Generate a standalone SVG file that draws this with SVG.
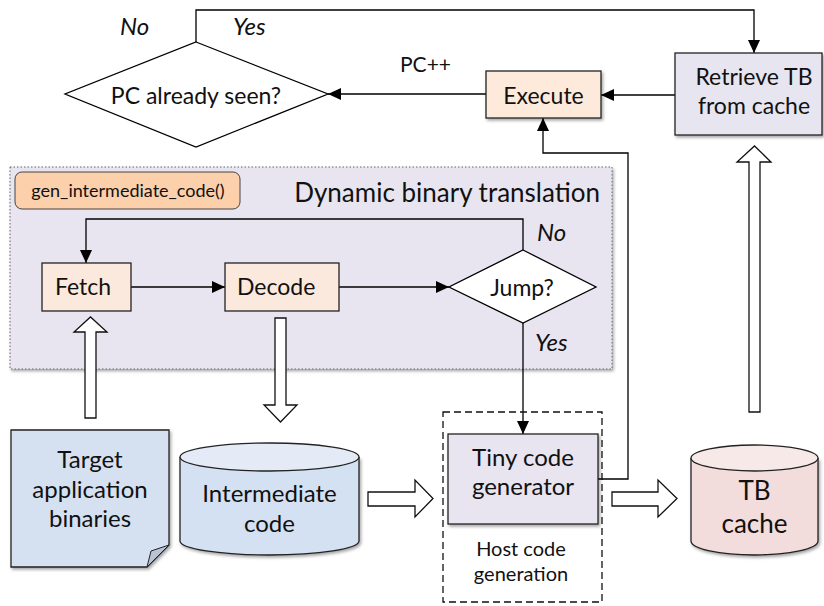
<svg xmlns="http://www.w3.org/2000/svg" width="824" height="606" viewBox="0 0 824 606">
  <defs>
    <marker id="arrow" markerUnits="userSpaceOnUse" markerWidth="14" markerHeight="14" viewBox="0 0 14 14" refX="13" refY="7" orient="auto">
      <path d="M0,1 L13,7 L0,13 Z" fill="#000"/>
    </marker>
    <filter id="shadow" x="-10%" y="-10%" width="125%" height="130%">
      <feDropShadow dx="1.5" dy="2" stdDeviation="1.5" flood-color="#000" flood-opacity="0.35"/>
    </filter>
  </defs>
  <style>
    text { font-family: Lato, "Open Sans", "Liberation Sans", sans-serif; fill: #111; }
    .box { stroke: #222; stroke-width: 1.3; }
    .conn { fill: none; stroke: #000; stroke-width: 1.3; marker-end: url(#arrow); }
    .hollow { fill: #fff; stroke: #111; stroke-width: 1.3; }
    .mid { text-anchor: middle; }
    .it { font-style: italic; }
  </style>

  <!-- Dynamic binary translation region -->
  <g id="dbt-region">
    <rect x="10" y="167" width="602" height="202" fill="#e8e5f0" stroke="#666" stroke-width="1" stroke-dasharray="1.5,2" filter="url(#shadow)"/>
    <text x="600" y="202" font-size="26" text-anchor="end">Dynamic binary translation</text>
  </g>
  <g id="gen-intermediate-code">
    <rect x="15" y="172" width="225" height="37" rx="7" fill="#fbd0ab" stroke="#444" stroke-width="1"/>
    <text class="mid" x="128" y="197" font-size="18">gen_intermediate_code()</text>
  </g>

  <!-- Hollow data-flow arrows -->
  <g id="flow-arrows">
    <polygon class="hollow" points="85,418 96,418 96,332 107,332 90.5,317 74,332 85,332"/>
    <polygon class="hollow" points="275,318 286,318 286,405 297,405 280.5,422 264,405 275,405"/>
    <polygon class="hollow" points="368,492 415,492 415,480 433,498.5 415,517 415,506 368,506"/>
    <polygon class="hollow" points="612,492 658,492 658,480 677,498.5 658,517 658,506 612,506"/>
    <polygon class="hollow" points="749,412 760,412 760,162 771,162 754.5,146 737,162 749,162"/>
  </g>

  <!-- Connectors -->
  <g id="connectors">
    <path class="conn" d="M196,42 V10 H754 V53"/>
    <path class="conn" d="M675,95 H601"/>
    <path class="conn" d="M486,94 H328"/>
    <path class="conn" d="M598,479 H628 V153 H543 V118"/>
    <path class="conn" d="M523,250 V219 H86 V263"/>
    <path class="conn" d="M131,287 H225"/>
    <path class="conn" d="M339,287 H449"/>
    <path class="conn" d="M523,323 V434"/>
    <text class="it" x="120" y="35" font-size="24">No</text>
    <text class="it" x="233" y="35" font-size="24">Yes</text>
    <text x="400" y="72" font-size="21">PC++</text>
    <text class="it" x="537" y="241" font-size="24">No</text>
    <text class="it" x="535" y="351" font-size="24">Yes</text>
  </g>

  <g id="pc-seen">
    <polygon points="196,42 328,94 196,147 65,94" fill="#fff" stroke="#000" stroke-width="1.3"/>
    <text class="mid" x="196" y="104" font-size="23">PC already seen?</text>
  </g>

  <g id="execute">
    <rect class="box" x="486" y="71" width="115" height="47" fill="#fdeadb" filter="url(#shadow)"/>
    <text class="mid" x="543.5" y="104" font-size="23">Execute</text>
  </g>

  <g id="retrieve-tb">
    <rect class="box" x="675" y="53" width="147" height="82" fill="#e7e5f0" filter="url(#shadow)"/>
    <text class="mid" x="754" y="85" font-size="23">Retrieve TB</text>
    <text class="mid" x="754" y="114" font-size="23">from cache</text>
  </g>

  <g id="fetch">
    <rect class="box" x="42" y="263" width="89" height="48" fill="#fbe9dd"/>
    <text x="55" y="295" font-size="23">Fetch</text>
  </g>

  <g id="decode">
    <rect class="box" x="225" y="263" width="114" height="48" fill="#fbe9dd"/>
    <text x="237" y="295" font-size="23">Decode</text>
  </g>

  <g id="jump">
    <polygon points="523,250 596,287 523,323 449,287" fill="#fff" stroke="#000" stroke-width="1.3"/>
    <text class="mid" x="522" y="296" font-size="23">Jump?</text>
  </g>

  <g id="target-binaries">
    <path class="box" d="M11,430 H169 V545 L147,567 H11 Z" fill="#d5e1f1" filter="url(#shadow)"/>
    <path d="M169,545 L151,551 L147,567 Z" fill="#b8c3d6" stroke="#222" stroke-width="1"/>
    <text class="mid" x="90" y="468" font-size="24">Target</text>
    <text class="mid" x="90" y="498" font-size="24">application</text>
    <text class="mid" x="90" y="527" font-size="24">binaries</text>
  </g>

  <g id="intermediate-code">
    <path class="box" d="M180,457 V541 A89.5,14 0 0 0 359,541 V457" fill="#d4e1f2" filter="url(#shadow)"/>
    <ellipse class="box" cx="269.5" cy="457" rx="89.5" ry="14" fill="#e4ebf6"/>
    <text class="mid" x="269.5" y="502" font-size="24">Intermediate</text>
    <text class="mid" x="269.5" y="532" font-size="24">code</text>
  </g>

  <g id="host-code-generation">
    <rect x="443" y="412" width="159" height="190" fill="none" stroke="#111" stroke-width="1.3" stroke-dasharray="7,4"/>
    <text class="mid" x="521" y="556" font-size="20">Host code</text>
    <text class="mid" x="521" y="581" font-size="20">generation</text>
  </g>

  <g id="tiny-code-generator">
    <rect class="box" x="448" y="434" width="150" height="90" fill="#e8e4f0" filter="url(#shadow)"/>
    <text class="mid" x="523" y="466" font-size="24">Tiny code</text>
    <text class="mid" x="523" y="495" font-size="24">generator</text>
  </g>

  <g id="tb-cache">
    <path class="box" d="M691,458 V541 A63.5,14 0 0 0 818,541 V458" fill="#f3dcdc" filter="url(#shadow)"/>
    <ellipse class="box" cx="754.5" cy="458" rx="63.5" ry="13" fill="#f8e9e9"/>
    <text class="mid" x="754.5" y="500" font-size="26">TB</text>
    <text class="mid" x="754.5" y="533" font-size="26">cache</text>
  </g>
</svg>
